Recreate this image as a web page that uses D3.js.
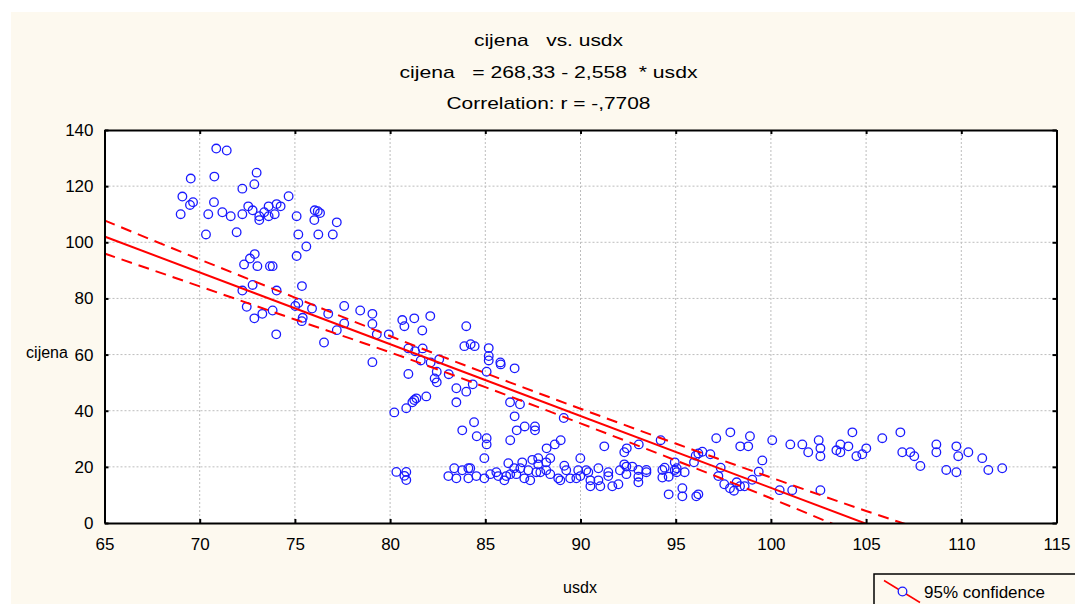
<!DOCTYPE html>
<html>
<head>
<meta charset="utf-8">
<script src="https://cdn.jsdelivr.net/npm/d3@7"></script>
<style>
    body { margin: 0; background: #ffffff; }
    text { font-family: "Liberation Sans", Arial, sans-serif; }
</style>
</head>
<body>
<div id="chart"></div>
<script>
// Scatter data (usdx, cijena)
const usdx = [
    70.87, 71.42, 69.53, 70.77, 69.09, 69.49, 69.65, 70.75, 69.0, 70.45,
    71.19, 71.63, 70.33, 71.94, 72.24, 72.87, 72.99, 72.24, 72.55, 72.78,
    73.13, 73.13, 72.33, 72.64, 72.89, 73.03, 72.78, 72.24, 72.47, 73.39,
    73.62, 73.62, 73.94, 74.04, 74.25, 74.67, 75.09, 75.18, 75.6, 75.09,
    76.04, 76.02, 76.2, 76.32, 77.2, 76.23, 76.99, 73.69, 73.83, 74.04,
    75.37, 72.87, 73.29, 73.83, 75.02, 75.18, 75.41, 75.36, 75.9, 76.75,
    77.59, 77.59, 78.43, 79.07, 79.07, 77.2, 76.53, 74.02, 79.30, 79.07,
    79.93, 80.64, 80.75, 81.27, 82.11, 81.69, 80.96, 81.31, 81.71, 81.61,
    82.13, 82.58, 82.45, 82.34, 82.45, 83.08, 80.96, 84.0, 83.9, 84.23,
    84.44, 85.18, 85.18, 85.18, 85.07, 85.79, 85.81, 86.54, 83.48, 84.0,
    84.34, 83.48, 86.30, 86.82, 86.54, 80.22, 80.85, 81.17, 81.27, 81.38,
    81.9, 83.79, 84.41, 84.55, 85.07, 85.07, 86.31, 86.65, 87.07, 87.61,
    87.61, 84.95, 88.22, 80.33, 80.85, 80.75, 80.85, 89.12, 88.96, 88.65,
    91.25, 89.99, 88.41, 87.78,
    83.06, 83.37, 83.48, 83.79, 84.11, 84.21, 84.11, 84.53, 84.95, 85.26,
    85.58, 85.68, 86.0, 86.1, 86.21, 86.31, 86.52, 86.63, 86.84, 86.94,
    87.05, 87.26, 87.36, 87.47, 87.68, 87.78, 87.89, 88.2, 88.2, 88.41,
    88.83, 88.94, 89.15, 89.25, 89.46, 89.78, 89.88, 89.99, 90.3, 90.41,
    90.52, 90.52, 90.94, 90.94, 91.04, 91.46, 91.46, 91.67, 91.99, 92.07,
    92.3, 92.41, 92.41, 92.72, 93.04, 93.04, 93.04, 93.46, 93.46, 94.3,
    94.3, 94.42, 94.63, 94.95, 95.05, 95.05, 95.47,
    92.3, 92.43, 93.06, 94.21, 94.95, 95.96, 96.05, 96.19, 96.4, 96.82,
    97.13, 97.87, 98.39, 98.81, 98.9, 100.07, 99.55, 99.36, 99.02, 97.36,
    97.24, 97.55, 97.85, 98.06, 98.2, 98.62, 98.38, 100.46, 94.63, 95.35,
    95.35, 96.08, 96.19,
    101.12, 102.6, 101.02, 101.65, 101.96, 102.51, 102.6, 102.6, 103.44, 103.65,
    103.65, 104.07, 104.28, 104.49, 104.8, 105.01, 105.85, 106.8, 106.9, 107.32,
    107.53, 107.85, 108.69, 108.69, 109.21, 109.74, 109.84, 109.74, 110.37, 111.1,
    111.42, 112.15
];

const cijena = [
    133.4, 132.7, 122.7, 123.4, 116.3, 113.3, 114.3, 114.3, 110.0, 110.0,
    110.7, 109.3, 102.8, 103.6, 119.1, 120.7, 124.8, 110.0, 112.8, 111.4,
    109.3, 107.9, 92.1, 94.2, 95.8, 91.5, 84.8, 82.8, 77.0, 110.7,
    112.8, 109.3, 110.0, 113.6, 112.8, 116.4, 109.3, 102.8, 98.5, 95.1,
    111.4, 107.9, 111.1, 110.4, 107.1, 102.8, 102.8, 91.5, 91.5, 82.8,
    84.4, 72.9, 74.5, 75.7, 77.3, 78.4, 73.1, 71.9, 76.4, 74.5,
    77.3, 71.1, 75.7, 74.5, 70.9, 68.7, 64.3, 67.2, 67.2, 57.3,
    67.2, 72.3, 70.1, 72.9, 73.7, 68.6, 62.2, 61.2, 62.2, 57.9,
    57.2, 58.3, 53.9, 51.5, 50.1, 53.0, 53.1, 70.1, 63.0, 63.7,
    63.0, 62.3, 59.5, 57.9, 53.9, 57.2, 56.5, 55.1, 48.0, 46.8,
    49.4, 43.0, 43.0, 42.3, 38.0, 39.4, 40.9, 43.0, 43.8, 44.4,
    45.1, 33.0, 35.9, 30.9, 30.2, 28.0, 29.5, 33.0, 34.4, 34.4,
    33.0, 23.1, 26.6, 18.2, 18.2, 16.8, 15.3, 37.4, 29.5, 28.0,
    27.3, 23.1, 23.1, 23.1,
    16.7, 19.5, 15.9, 18.8, 19.5, 19.5, 15.9, 16.7, 15.9, 17.4,
    18.1, 16.7, 15.2, 16.7, 21.3, 17.4, 19.5, 17.4, 19.5, 21.6,
    15.9, 18.8, 15.2, 22.5, 18.1, 20.9, 18.1, 18.8, 21.6, 17.4,
    15.9, 15.2, 20.4, 18.8, 15.9, 15.9, 18.8, 16.7, 18.8, 18.1,
    15.2, 13.1, 19.5, 15.2, 13.1, 18.1, 16.7, 13.1, 13.8, 18.8,
    20.9, 20.1, 17.4, 20.1, 18.9, 16.5, 14.5, 18.9, 18.1, 18.9,
    16.2, 19.7, 16.5, 18.9, 19.5, 18.1, 18.1,
    25.2, 26.6, 28.0, 29.5, 21.6, 21.6, 24.0, 24.8, 25.4, 24.5,
    30.2, 32.3, 27.3, 27.3, 30.9, 29.5, 22.3, 18.3, 15.4, 19.7,
    16.7, 13.8, 12.4, 11.5, 14.5, 13.1, 13.1, 11.7, 10.2, 12.4,
    9.5, 9.5, 10.2,
    11.7, 11.7, 28.0, 28.0, 25.2, 29.5, 26.6, 23.8, 25.9, 28.0,
    25.2, 27.3, 32.3, 23.8, 24.5, 26.6, 30.2, 32.3, 25.2, 25.2,
    23.8, 20.3, 28.0, 25.2, 18.9, 27.3, 23.8, 18.1, 25.2, 23.1,
    18.9, 19.5
];

// Regression line (from the title) and 95% band
const intercept = 268.33;
const slope = -2.558;
const bandX = [65, 70, 75, 80, 85, 90, 95, 100, 105, 110];
const bandUpper = [107.8, 93.9, 80.3, 66.6, 53.4, 40.7, 28.3, 16.2, 4.3, -6.8];
const bandLower = [96.0, 84.3, 72.5, 60.8, 48.4, 35.5, 22.3, 8.8, -5.3, -19.3];

const xTicks = [65, 70, 75, 80, 85, 90, 95, 100, 105, 110, 115];
const yTicks = [0, 20, 40, 60, 80, 100, 120, 140];
const titleLines = ["cijena   vs. usdx", "cijena   = 268,33 - 2,558  * usdx", "Correlation: r = -,7708"];
const titleWidths = [149, 298, 204];

const W = 1075, H = 604;
const plotL = 104.5, plotR = 1056.5, plotT = 130, plotB = 523;

const svg = d3.select("#chart")
    .append("svg")
    .attr("width", W)
    .attr("height", H);

// Background panel
svg.append("rect")
    .attr("x", 11).attr("y", 12)
    .attr("width", W - 11).attr("height", H - 12)
    .attr("fill", "#fdf9ef");

svg.append("rect")
    .attr("x", plotL).attr("y", plotT)
    .attr("width", plotR - plotL).attr("height", plotB - plotT)
    .attr("fill", "#ffffff");

svg.append("clipPath")
    .attr("id", "plotclip")
    .append("rect")
    .attr("x", plotL).attr("y", plotT)
    .attr("width", plotR - plotL).attr("height", plotB - plotT);

// Scales
const x = d3.scaleLinear().domain([65, 115]).range([plotL, plotR]);
const y = d3.scaleLinear().domain([0, 140]).range([plotB, plotT]);

// Grid
svg.append("g")
    .selectAll("line")
    .data(xTicks.slice(1, -1))
    .enter().append("line")
    .attr("x1", d => x(d)).attr("x2", d => x(d))
    .attr("y1", plotT).attr("y2", plotB)
    .attr("stroke", "#bdbdbd")
    .attr("stroke-width", 1)
    .attr("stroke-dasharray", "2,2");

svg.append("g")
    .selectAll("line")
    .data(yTicks.slice(1, -1))
    .enter().append("line")
    .attr("x1", plotL).attr("x2", plotR)
    .attr("y1", d => y(d)).attr("y2", d => y(d))
    .attr("stroke", "#bdbdbd")
    .attr("stroke-width", 1)
    .attr("stroke-dasharray", "2,2");

// Points
const points = usdx.map((d, i) => ({ x: d, y: cijena[i] }));

svg.append("g")
    .selectAll("circle")
    .data(points)
    .enter().append("circle")
    .attr("cx", d => x(d.x))
    .attr("cy", d => y(d.y))
    .attr("r", 4.3)
    .attr("fill", "none")
    .attr("stroke", "#1a1aff")
    .attr("stroke-width", 1.3);

// Regression line and confidence band
const lineGroup = svg.append("g").attr("clip-path", "url(#plotclip)");

lineGroup.append("line")
    .attr("x1", x(65)).attr("y1", y(intercept + slope * 65))
    .attr("x2", x(115)).attr("y2", y(intercept + slope * 115))
    .attr("stroke", "#ff0000")
    .attr("stroke-width", 2);

const bandLine = d3.line()
    .x((d, i) => x(bandX[i]))
    .y(d => y(d))
    .curve(d3.curveNatural);

[bandUpper, bandLower].forEach(b => {
    lineGroup.append("path")
        .attr("d", bandLine(b))
        .attr("fill", "none")
        .attr("stroke", "#ff0000")
        .attr("stroke-width", 2)
        .attr("stroke-dasharray", "11,7");
});

// Axes
const axisStyle = g => {
    g.selectAll("path").attr("stroke", "#000").attr("stroke-width", 2);
    g.selectAll("line").attr("stroke", "#000").attr("stroke-width", 2);
    g.selectAll("text").style("font-size", "17px").attr("fill", "#000")
        .style("font-family", "'Liberation Sans', Arial, sans-serif");
};

svg.append("g")
    .attr("transform", `translate(0, ${plotB})`)
    .call(d3.axisBottom(x).tickValues(xTicks).tickSizeInner(-4).tickSizeOuter(0).tickPadding(15))
    .call(axisStyle);

svg.append("g")
    .attr("transform", `translate(${plotL}, 0)`)
    .call(d3.axisLeft(y).tickValues(yTicks).tickSizeInner(-4).tickSizeOuter(0).tickPadding(11))
    .call(axisStyle);

svg.append("g")
    .attr("transform", `translate(0, ${plotT})`)
    .call(d3.axisTop(x).tickValues(xTicks).tickSizeInner(-4).tickSizeOuter(0).tickFormat(""))
    .call(axisStyle);

svg.append("g")
    .attr("transform", `translate(${plotR}, 0)`)
    .call(d3.axisRight(y).tickValues(yTicks).tickSizeInner(-4).tickSizeOuter(0).tickFormat(""))
    .call(axisStyle);

// Titles
titleLines.forEach((t, i) => {
    svg.append("text")
        .attr("x", 548.5)
        .attr("y", 46 + i * 31.5)
        .attr("text-anchor", "middle")
        .attr("textLength", titleWidths[i])
        .attr("lengthAdjust", "spacingAndGlyphs")
        .style("white-space", "pre")
        .style("font-size", "17px")
        .style("font-weight", "normal")
        .style("font-family", "'Liberation Sans Narrow', 'Liberation Sans', Arial, sans-serif")
        .text(t);
});

// Axis labels
svg.append("text")
    .attr("x", 47)
    .attr("y", 358)
    .attr("text-anchor", "middle")
    .style("font-size", "16px")
    .text("cijena");

svg.append("text")
    .attr("x", 580)
    .attr("y", 593)
    .attr("text-anchor", "middle")
    .style("font-size", "16px")
    .text("usdx");

// Legend
const legend = svg.append("g");

legend.append("rect")
    .attr("x", 874).attr("y", 574)
    .attr("width", 240).attr("height", 60)
    .attr("fill", "#fdf9ef")
    .attr("stroke", "#000")
    .attr("stroke-width", 1.5);

legend.append("line")
    .attr("x1", 884).attr("y1", 580.5)
    .attr("x2", 920).attr("y2", 602.5)
    .attr("stroke", "#ff0000")
    .attr("stroke-width", 1.5);

legend.append("circle")
    .attr("cx", 902.5).attr("cy", 591.5)
    .attr("r", 4.3)
    .attr("fill", "#fdf9ef")
    .attr("stroke", "#1a1aff")
    .attr("stroke-width", 1.3);

legend.append("text")
    .attr("x", 924)
    .attr("y", 598)
    .style("font-size", "17px")
    .text("95% confidence");
</script>
</body>
</html>
